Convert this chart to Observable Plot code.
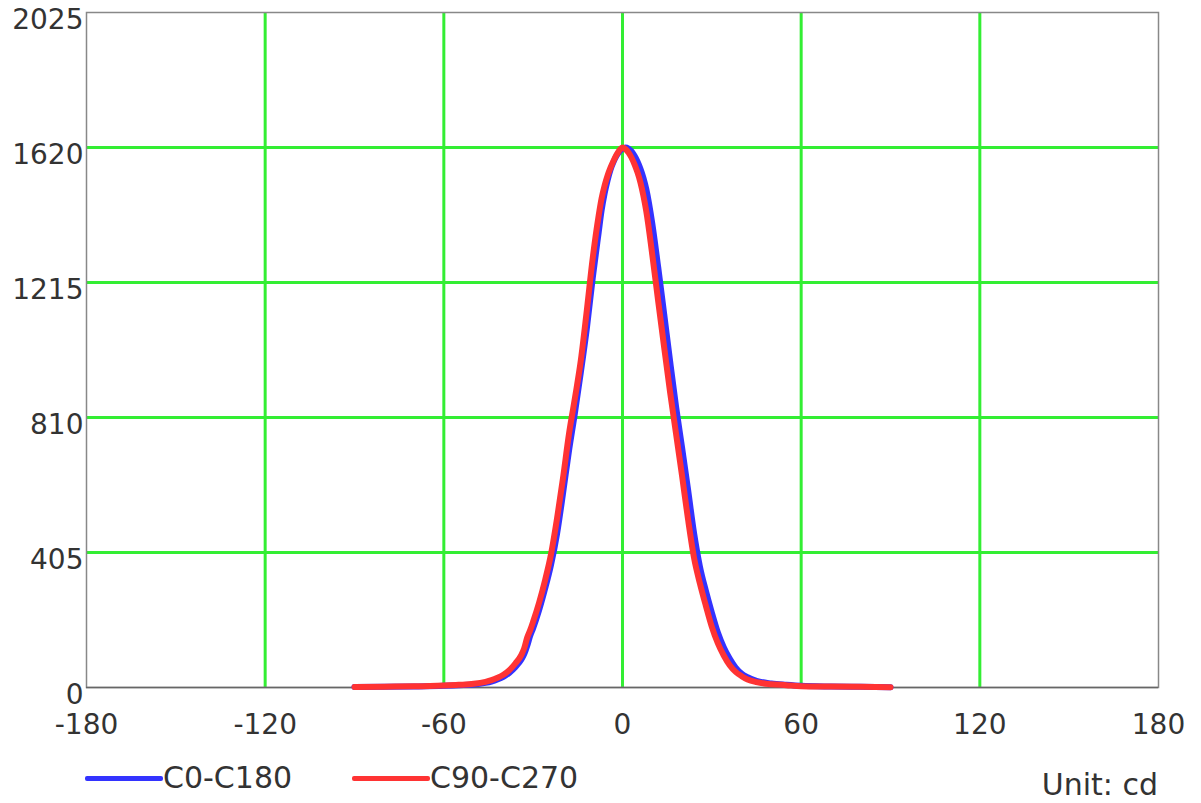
<!DOCTYPE html>
<html>
<head>
<meta charset="utf-8">
<script src="https://cdn.jsdelivr.net/npm/d3@7"></script>
<script src="https://cdn.jsdelivr.net/npm/@observablehq/plot@0.6"></script>
<style>
  html, body { margin: 0; padding: 0; background: #fff; }
  #wrap { position: relative; width: 1201px; height: 803px; font-family: "DejaVu Sans", sans-serif; color: #333; }
  #legend { position: absolute; left: 0; top: 750px; width: 1201px; height: 53px; }
  .item { position: absolute; top: 11px; display: flex; align-items: center; font-size: 30px; line-height: 34px; }
  .swatch { display: inline-block; width: 78px; height: 5px; border-radius: 2px; }
  #unit { position: absolute; right: 43px; top: 19px; font-size: 30px; line-height: 32px; }
</style>
</head>
<body>
<div id="wrap">
  <div id="chart"></div>
  <div id="legend"></div>
</div>
<script>
// ---- data ----
const seriesNames = ["C0-C180", "C90-C270"];
const seriesColors = ["#3333ff", "#ff3333"];
const unitLabel = "Unit: cd";

const angles = [-90,-80,-70,-60,-55,-50,-46,-44,-42,-40,-38,-36,-34,-33,-32,-31,-30,-28,-26,-24,-22,-20,-18,-16,-14,-12,-10,-8,-7,-6,-5,-4,-3,-2,-1,0,1,2,3,4,5,6,7,8,10,12,14,16,18,20,22,24,26,28,30,32,34,36,38,40,42,45,50,55,60,70,80,90];

const c0c180 = [1.5,2,3,5,7,9,14,18,24,32,44,61,83,100,125,155,178,232,296,368,460,580,708,822,945,1075,1228,1365,1432,1482,1522,1554,1577,1595,1608,1616,1620,1617,1609,1596,1579,1557,1530,1495,1392,1260,1120,978,842,720,595,465,363,290,225,166,121,87,60,42,31,20,12,8,5,3,2,1];

const c90c270 = [1.5,2.5,3.5,6,8,11,17,22,29,38,52,72,97,118,150,172,198,255,322,400,506,627,759,867,981,1130,1288,1416,1468,1506,1536,1560,1580,1598,1612,1620,1615,1605,1590,1570,1546,1516,1476,1428,1298,1158,1020,885,760,635,505,390,312,245,182,133,96,67,47,34,24,16,10,7,4,3,2,1];

const xTicks = [-180,-120,-60,0,60,120,180];
const xTickLabels = ["-180","-120","-60","0","60","120","180"];
const yTicks = [0,405,810,1215,1620,2025];
const yTickLabels = ["0","405","810","1215","1620","2025"];
const xGrid = [-120,-60,0,60,120];
const yGrid = [405,810,1215,1620];

// ---- build table ----
const rows = [];
[c0c180, c90c270].forEach((vals, si) => {
  vals.forEach((v, i) => rows.push({angle: angles[i], value: v, series: seriesNames[si]}));
});

const chart = Plot.plot({
  width: 1201,
  height: 750,
  marginLeft: 86,
  marginRight: 43,
  marginTop: 12,
  marginBottom: 63,
  style: {fontFamily: "DejaVu Sans, sans-serif", fontSize: "28px", color: "#333", background: "#fff"},
  x: {domain: [-180, 180], label: null},
  y: {domain: [0, 2025], label: null},
  color: {domain: seriesNames, range: seriesColors},
  marks: [
    Plot.ruleX(xGrid, {stroke: "#33ee33", strokeWidth: 3}),
    Plot.ruleY(yGrid, {stroke: "#33ee33", strokeWidth: 3}),
    Plot.frame({stroke: "#888", strokeWidth: 1.5}),
    Plot.ruleY([0], {stroke: "#666", strokeWidth: 1.5}),
    Plot.axisX({ticks: xTicks, tickSize: 0, tickPadding: 27, tickFormat: (d) => xTickLabels[xTicks.indexOf(d)], fontSize: 28, fill: "#333", label: null}),
    Plot.axisY({ticks: yTicks, tickSize: 0, tickPadding: 3, dy: 8, tickFormat: (d) => yTickLabels[yTicks.indexOf(d)], fontSize: 28, fill: "#333", label: null}),
    Plot.line(rows, {x: "angle", y: "value", z: "series", stroke: "series", strokeWidth: 6, curve: "monotone-x", strokeLinecap: "round", strokeLinejoin: "round"})
  ]
});
document.getElementById("chart").appendChild(chart);

// ---- legend ----
const legend = document.getElementById("legend");
const legendLeft = [85, 352];
seriesNames.forEach((name, i) => {
  const it = document.createElement("div");
  it.className = "item";
  it.style.left = legendLeft[i] + "px";
  const sw = document.createElement("span");
  sw.className = "swatch";
  sw.style.background = seriesColors[i];
  const tx = document.createElement("span");
  tx.textContent = name;
  it.appendChild(sw);
  it.appendChild(tx);
  legend.appendChild(it);
});
const unit = document.createElement("div");
unit.id = "unit";
unit.textContent = unitLabel;
legend.appendChild(unit);
</script>
</body>
</html>
